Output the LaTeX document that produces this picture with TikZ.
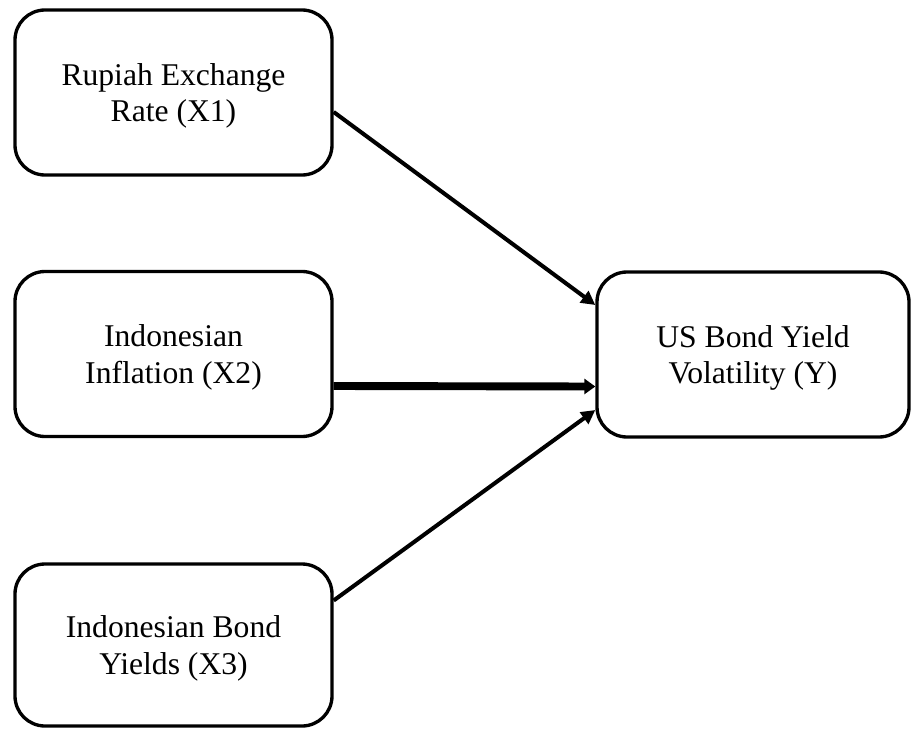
\documentclass[tikz,border=0pt]{standalone}
\usepackage{fontspec}
\setmainfont{Liberation Serif}
\usetikzlibrary{arrows.meta}
\begin{document}
\begin{tikzpicture}[
  varbox/.style={draw, line width=1.9pt, rounded corners=0.6cm, minimum width=6.34cm,
    minimum height=3.3cm, align=center, inner sep=0pt, text depth=0pt,
    font=\fontsize{18}{21}\selectfont},
  link/.style={line width=2.3pt, -{Triangle[length=0.28cm,width=0.28cm]}},
  heavylink/.style={line width=4.5pt, -{Triangle[length=0.22cm,width=0.3cm]}}]
\useasboundingbox (0,0) rectangle (18.22,-14.58);
\node[varbox] (x1) at (3.47,-1.85) {Rupiah Exchange\\Rate (X1)};
\node[varbox] (x2) at (3.47,-7.08) {Indonesian\\Inflation (X2)};
\node[varbox, minimum height=3.24cm] (x3) at (3.47,-12.9) {Indonesian Bond\\Yields (X3)};
\node[varbox, minimum width=6.24cm] (y) at (15.06,-7.09) {US Bond Yield\\Volatility (Y)};
\draw[link] ([yshift=-0.39cm]x1.east) -- ([yshift=0.99cm]y.west);
\draw[heavylink] ([yshift=-0.64cm]x2.east) -- ([yshift=-0.64cm]y.west);
\draw[link] ([yshift=0.89cm]x3.east) -- ([yshift=-1.11cm]y.west);
\end{tikzpicture}
\end{document}
